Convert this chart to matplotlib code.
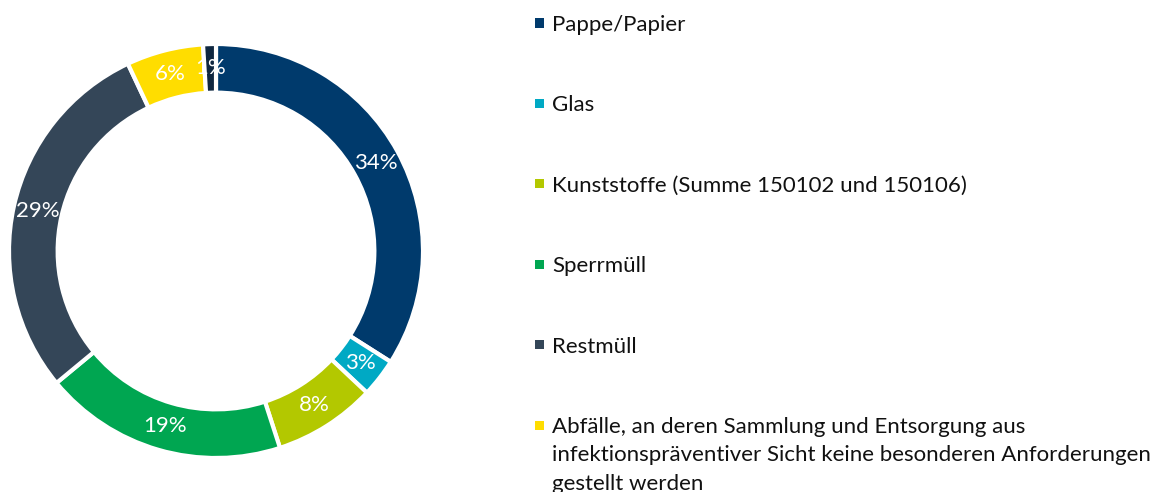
import numpy as np
import matplotlib.pyplot as plt
from matplotlib.patches import Rectangle

plt.rcParams["font.family"] = ["Lato", "DejaVu Sans"]

# ── Data ──────────────────────────────────────────────────────────────────────
categories = [
    "Pappe/Papier",
    "Glas",
    "Kunststoffe (Summe 150102 und 150106)",
    "Sperrmüll",
    "Restmüll",
    "Abfälle, an deren Sammlung und Entsorgung aus\ninfektionspräventiver Sicht keine besonderen Anforderungen\ngestellt werden",
    "Sonstige",
]
shares = [34, 3, 8, 19, 29, 6, 1]
colors = ["#003a6c", "#00a9c4", "#b3c800", "#00a651", "#344658", "#ffdd00", "#0f2740"]

W, H = 1152, 492
fig = plt.figure(figsize=(W / 100, H / 100), dpi=100)
ax = fig.add_axes([9 / W, 34 / H, 414 / W, 414 / H])

width = 0.235
wedges, _ = ax.pie(
    shares, colors=colors, startangle=90, counterclock=False, radius=1.0,
    wedgeprops=dict(width=width, edgecolor="white", linewidth=3),
)
ax.set_xlim(-1, 1)
ax.set_ylim(-1, 1)
ax.set_aspect("equal")

r_lab = 1 - width / 2
for w, v in zip(wedges, shares):
    ang = np.deg2rad((w.theta1 + w.theta2) / 2)
    ax.text(r_lab * np.cos(ang), r_lab * np.sin(ang), f"{v}%",
            ha="center", va="center", color="white", fontsize=16)

# ── Legend (only six entries fit on the canvas) ───────────────────────────────
row0, step = 23, 80.4
for i, (lab, c) in enumerate(zip(categories[:6], colors[:6])):
    yc = row0 + i * step
    fig.add_artist(Rectangle((535 / W, 1 - (yc + 4.5) / H), 9 / W, 9 / H,
                             transform=fig.transFigure, facecolor=c, edgecolor="none"))
    fig.text(552 / W, 1 - (yc - 8) / H, lab, ha="left", va="top",
             fontsize=16, color="#111111", linespacing=1.52)

fig.savefig("out.png", dpi=100)
